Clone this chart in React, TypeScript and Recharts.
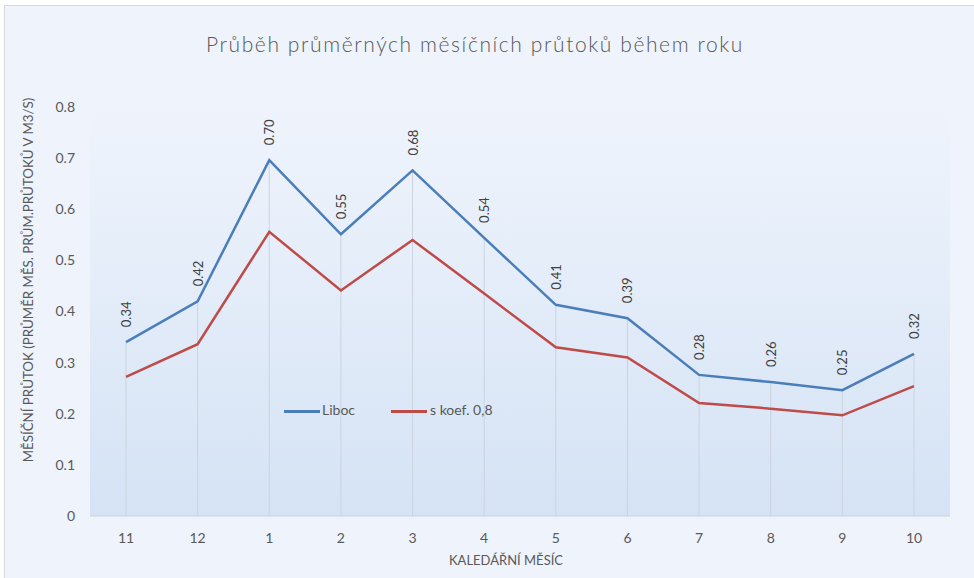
import React from 'react';
import { LineChart, Line, XAxis, YAxis, CartesianGrid, ReferenceLine, LabelList } from 'recharts';

const months = ['11', '12', '1', '2', '3', '4', '5', '6', '7', '8', '9', '10'];
const liboc = [0.34, 0.42, 0.696, 0.551, 0.676, 0.544, 0.413, 0.387, 0.276, 0.262, 0.246, 0.317];
const koef = [0.272, 0.336, 0.556, 0.441, 0.54, 0.435, 0.33, 0.31, 0.221, 0.21, 0.197, 0.254];
const yTicks = [0, 0.1, 0.2, 0.3, 0.4, 0.5, 0.6, 0.7, 0.8];

const data = months.map((m, i) => ({ month: m, liboc: liboc[i], koef: koef[i] }));

const FONT = 'Lato, "Open Sans", sans-serif';
const TXT = '#595959';

const RotLabel = (props: any) => {
  const { x, y, value } = props;
  const ty = y - 15;
  return (
    <text
      x={x}
      y={ty}
      transform={`rotate(-90 ${x} ${ty})`}
      textAnchor="start"
      dominantBaseline="central"
      fontSize={13}
      fill="#404040"
      fontFamily={FONT}
    >
      {Number(value).toFixed(2)}
    </text>
  );
};

export default function App() {
  return (
    <div style={{ position: 'absolute', left: 0, top: 0, width: 974, height: 578, background: '#ffffff', overflow: 'hidden' }}>
      <div
        style={{
          position: 'absolute',
          left: 4,
          top: 5,
          width: 975,
          height: 580,
          background: '#EEF3FC',
          border: '1px solid #D9D9D9',
        }}
      />
      <div style={{ position: 'absolute', left: 0, top: 0 }}>
        <LineChart width={974} height={578} data={data} margin={{ top: 107, right: 24, bottom: 0, left: 0 }}>
          <defs>
            <linearGradient id="plotGrad" x1="0" y1="0" x2="0" y2="1">
              <stop offset="0%" stopColor="#EEF3FC" />
              <stop offset="12%" stopColor="#ECF2FB" />
              <stop offset="100%" stopColor="#D5E3F5" />
            </linearGradient>
          </defs>
          <CartesianGrid horizontal={false} vertical={false} fill="url(#plotGrad)" stroke="none" />
          <XAxis
            dataKey="month"
            height={62}
            padding={{ left: 36, right: 36 }}
            tickSize={0}
            tickMargin={17}
            axisLine={{ stroke: '#C9D3E0', strokeWidth: 1 }}
            tickLine={false}
            tick={{ fill: TXT, fontSize: 14, fontFamily: FONT }}
            interval={0}
          />
          <YAxis
            width={90}
            domain={[0, 0.8]}
            ticks={yTicks}
            tickFormatter={(v: number) => (v === 0 ? '0' : v.toFixed(1))}
            axisLine={false}
            tickLine={false}
            tickSize={0}
            tickMargin={15}
            tick={{ fill: TXT, fontSize: 14, fontFamily: FONT }}
          />
          {months.map((m, i) => (
            <ReferenceLine
              key={m}
              segment={[{ x: m, y: 0 }, { x: m, y: liboc[i] }]}
              stroke="#CBD3DE"
              strokeWidth={1}
              ifOverflow="visible"
            />
          ))}
          <Line
            type="linear"
            dataKey="koef"
            stroke="#BE4B48"
            strokeWidth={2.5}
            dot={false}
            activeDot={false}
            isAnimationActive={false}
          />
          <Line
            type="linear"
            dataKey="liboc"
            stroke="#4A7EBB"
            strokeWidth={2.5}
            dot={false}
            activeDot={false}
            isAnimationActive={false}
          >
            <LabelList dataKey="liboc" content={<RotLabel />} />
          </Line>
        </LineChart>
      </div>
      <div style={{ position: 'absolute', left: 284, top: 401, width: 300, height: 20, fontFamily: FONT, fontSize: 14, color: TXT }}>
        <div style={{ position: 'absolute', left: 0, top: 9, width: 36, height: 3, background: '#4A7EBB' }} />
        <div style={{ position: 'absolute', left: 38, top: 0 }}>Liboc</div>
        <div style={{ position: 'absolute', left: 107, top: 9, width: 36, height: 3, background: '#BE4B48' }} />
        <div style={{ position: 'absolute', left: 146, top: 0 }}>s koef. 0,8</div>
      </div>
      <div
        style={{
          position: 'absolute',
          left: 0,
          width: 950,
          top: 31,
          textAlign: 'center',
          fontFamily: FONT,
          fontSize: 21,
          fontWeight: 300,
          letterSpacing: 1.6,
          color: TXT,
          whiteSpace: 'nowrap',
        }}
      >
        Průběh průměrných měsíčních průtoků během roku
      </div>
      <div
        style={{
          position: 'absolute',
          left: 28,
          top: 280,
          transform: 'translate(-50%, -50%) rotate(-90deg)',
          fontFamily: FONT,
          fontSize: 13.3,
          color: TXT,
          whiteSpace: 'nowrap',
        }}
      >
        MĚSÍČNÍ PRŮTOK (PRŮMĚR MĚS. PRŮM.PRŮTOKŮ V M3/S)
      </div>
      <div
        style={{
          position: 'absolute',
          left: 506,
          top: 560,
          transform: 'translate(-50%, -50%)',
          fontFamily: FONT,
          fontSize: 13,
          color: TXT,
          whiteSpace: 'nowrap',
        }}
      >
        KALEDÁŘNÍ MĚSÍC
      </div>
    </div>
  );
}
